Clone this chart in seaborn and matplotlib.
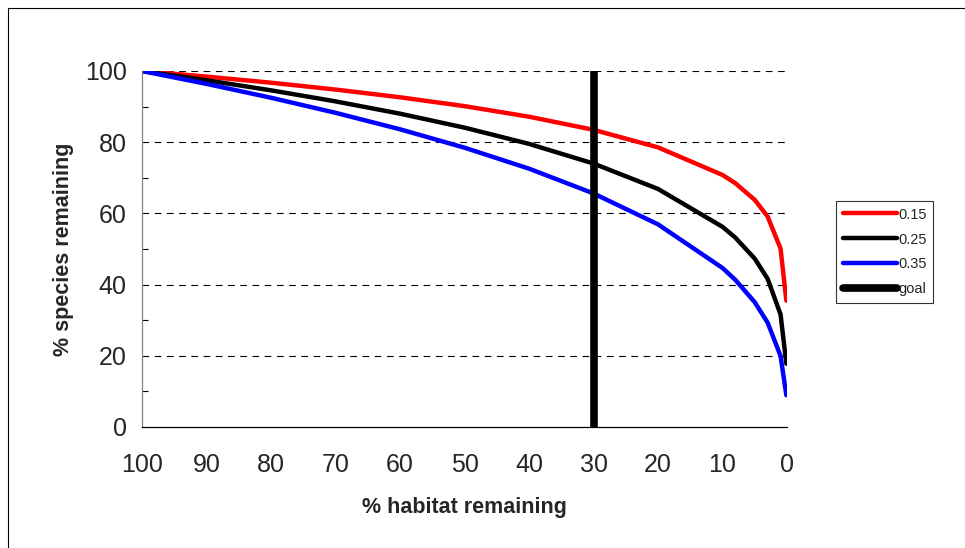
import matplotlib
matplotlib.use("Agg")
import matplotlib.pyplot as plt
import seaborn as sns
import pandas as pd
from matplotlib.lines import Line2D
from matplotlib.patches import Rectangle

habitat = [100, 90, 80, 70, 60, 50, 40, 30, 20, 10, 8, 5, 3, 1, 0.1]
z015 = [100, 98.43, 96.71, 94.79, 92.62, 90.13, 87.16, 83.48, 78.55, 70.79, 68.47, 63.80, 59.10, 50.12, 35.48]
z025 = [100, 97.40, 94.57, 91.47, 88.01, 84.09, 79.53, 74.01, 66.87, 56.23, 53.18, 47.29, 41.62, 31.62, 17.78]
z035 = [100, 96.38, 92.49, 88.26, 83.63, 78.46, 72.57, 65.61, 56.93, 44.67, 41.31, 35.05, 29.31, 19.95, 8.91]
series_names = ["0.15", "0.25", "0.35"]
goal_x = [30, 30]
goal_y = [0, 100]
xticks = [100, 90, 80, 70, 60, 50, 40, 30, 20, 10, 0]
yticks = [0, 20, 40, 60, 80, 100]

sns.set_style("white")
plt.rcParams['font.family'] = ['Liberation Sans', 'DejaVu Sans']

rows = []
for name, vals in zip(series_names, [z015, z025, z035]):
    for h, v in zip(habitat, vals):
        rows.append({"habitat": h, "species": v, "z": name})
df = pd.DataFrame(rows)

colors = {"0.15": "#ff0000", "0.25": "#000000", "0.35": "#0000ff"}

fig = plt.figure(figsize=(9.65, 5.48), dpi=100)
fig.patches.append(Rectangle((8/965, -0.1), 1.2, 1 - 8/548 + 0.1, transform=fig.transFigure,
                             fill=False, edgecolor="black", linewidth=0.8))
ax = fig.add_axes([142/965, 1 - 427/548, (787 - 142)/965, (427 - 71)/548])

for yv in [20, 40, 60, 80, 100]:
    ax.axhline(yv, color="black", linestyle=(0, (6, 5)), linewidth=0.8, zorder=0)

sns.lineplot(data=df, x="habitat", y="species", hue="z", palette=colors, sort=False,
             linewidth=3.2, ax=ax, legend=False, estimator=None)
ax.plot(goal_x, goal_y, color="black", linewidth=5.5, solid_capstyle="butt", zorder=5)

ax.set_xlim(100, 0)
ax.set_ylim(0, 100)
ax.set_xticks(xticks)
ax.set_yticks(yticks)
ax.set_yticks([10, 30, 50, 70, 90], minor=True)
ax.tick_params(axis="both", which="major", labelsize=18, length=6, width=0.8,
               direction="inout", color="black")
ax.tick_params(axis="y", which="minor", length=4, width=0.8, direction="in", left=True, color="black")
ax.tick_params(axis="y", which="major", pad=8)
ax.tick_params(axis="x", which="major", direction="out", length=7, pad=12)
for s in ["top", "right"]:
    ax.spines[s].set_visible(False)
ax.spines["left"].set_color("#808080")
ax.spines["bottom"].set_color("black")
for s in ["left", "bottom"]:
    ax.spines[s].set_linewidth(0.9)

ax.set_xlabel("% habitat remaining", fontsize=15.5, fontweight="bold", labelpad=14)
ax.set_ylabel("% species remaining", fontsize=15.5, fontweight="bold", labelpad=8)

handles = [Line2D([], [], color=colors[n], linewidth=3.2) for n in series_names]
handles.append(Line2D([], [], color="black", linewidth=5.5))
leg = fig.legend(handles, series_names + ["goal"], loc="upper left",
                 bbox_to_anchor=(836/965, 1 - 201/548), frameon=True, fancybox=False,
                 edgecolor="black", fontsize=10.5, handlelength=3.7, handletextpad=0.1,
                 borderpad=0.45, labelspacing=0.75, borderaxespad=0)
leg.get_frame().set_linewidth(0.8)

fig.savefig("out.png", dpi=100)
